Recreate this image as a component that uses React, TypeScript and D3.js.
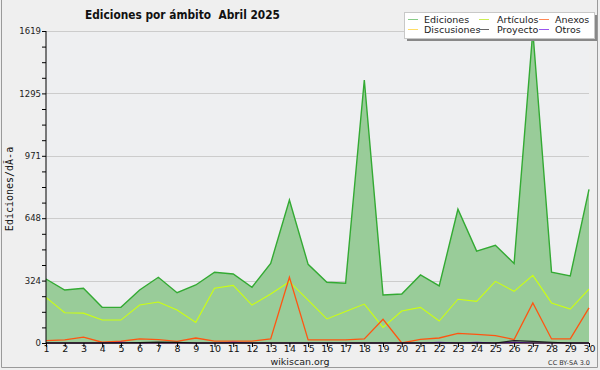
import { useEffect, useRef } from "react";
import * as d3 from "d3";

const W = 600;
const H = 370;
const MARGIN = { top: 31, right: 11, bottom: 27, left: 46 };

const days = d3.range(1, 31);
const ediciones = [332, 275, 284, 185, 185, 275, 341, 261, 301, 367, 358, 289, 413, 742, 408,
  315, 310, 1365, 249, 254, 353, 296, 694, 477, 507, 413, 1619, 367, 348, 797];
const articulos = [237, 157, 155, 119, 119, 197, 213, 171, 107, 284, 299, 197, 254, 318, 223,
  125, 163, 202, 81, 166, 185, 114, 227, 216, 320, 268, 351, 208, 176, 280];
const anexos = [12, 16, 30, 4, 9, 21, 18, 8, 26, 10, 10, 10, 21, 341, 16,
  16, 16, 21, 123, 0, 19, 26, 50, 45, 38, 18, 208, 21, 21, 182];
const discusiones = [1, 0, 1, 0, 0, 1, 0, 0, 1, 0, 0, 0, 1, 0, 0,
  0, 0, 1, 0, 0, 0, 1, 0, 0, 1, 0, 0, 0, 0, 1];
const proyecto = [0, 0, 0, 0, 0, 2, 5, 3, 0, 0, 0, 0, 0, 0, 0,
  0, 0, 0, 0, 0, 0, 0, 0, 0, 0, 12, 8, 4, 0, 0];
const otros = [0, 0, 0, 0, 3, 0, 0, 0, 0, 0, 3, 0, 0, 0, 0,
  0, 0, 0, 0, 0, 0, 3, 0, 3, 0, 3, 0, 0, 0, 0];
const yTicks = [0, 324, 648, 971, 1295, 1619];

const legendItems = [
  { name: "Ediciones", color: "#88cc88" },
  { name: "Artículos", color: "#ccee55" },
  { name: "Anexos", color: "#ff8855" },
  { name: "Discusiones", color: "#ffdd66" },
  { name: "Proyecto", color: "#666666" },
  { name: "Otros", color: "#9955ee" },
];

export default function App() {
  const ref = useRef<SVGSVGElement>(null);

  useEffect(() => {
    const svg = d3.select(ref.current);
    svg.selectAll("*").remove();

    const x = d3.scaleLinear().domain([1, 30]).range([MARGIN.left, W - MARGIN.right]);
    const y = d3.scaleLinear().domain([0, 1619]).range([H - MARGIN.bottom, MARGIN.top]);

    svg.append("rect").attr("width", W).attr("height", H).attr("fill", "#efefef");
    svg.append("path")
      .attr("d", `M1.5,0V367.5H597.5V0`)
      .attr("fill", "none").attr("stroke", "#9a9a9a");

    // plot background + grid
    svg.append("rect")
      .attr("x", x(1)).attr("y", y(1619))
      .attr("width", x(30) - x(1)).attr("height", y(0) - y(1619))
      .attr("fill", "#eeeff1");
    svg.append("g").selectAll("line").data(yTicks.slice(1)).join("line")
      .attr("x1", x(1)).attr("x2", x(30))
      .attr("y1", (d) => Math.round(y(d)) + 0.5).attr("y2", (d) => Math.round(y(d)) + 0.5)
      .attr("stroke", "#cccccc");

    const area = d3.area<number>().x((_, i) => x(days[i])).y0(y(0)).y1((d) => y(d));
    const line = d3.line<number>().x((_, i) => x(days[i])).y((d) => y(d));

    svg.append("path").attr("d", area(ediciones)).attr("fill", "#99cc99");
    svg.append("path").attr("d", line(ediciones)).attr("fill", "none")
      .attr("stroke", "#33aa33").attr("stroke-width", 1.4);
    svg.append("path").attr("d", line(articulos)).attr("fill", "none")
      .attr("stroke", "#ccff11").attr("stroke-width", 1.1);
    svg.append("path").attr("d", line(discusiones)).attr("fill", "none")
      .attr("stroke", "#ffdd44").attr("stroke-width", 1);
    svg.append("path").attr("d", line(anexos)).attr("fill", "none")
      .attr("stroke", "#ff5511").attr("stroke-width", 1.3);
    svg.append("path").attr("d", line(otros)).attr("fill", "none")
      .attr("stroke", "#7711dd").attr("stroke-width", 1.2);
    svg.append("path").attr("d", line(proyecto)).attr("fill", "none")
      .attr("stroke", "#222222").attr("stroke-width", 1.2);

    // axes
    const yAxis = d3.axisLeft(y)
      .tickValues(d3.range(0, 21).map((i) => (1619 * i) / 20))
      .tickSize(4)
      .tickFormat((d) => {
        const v = +d;
        const hit = yTicks.find((t) => Math.abs(t - v) < 1);
        return hit !== undefined ? String(hit) : "";
      });
    const gy = svg.append("g").attr("transform", `translate(${x(1)},0)`).call(yAxis);
    gy.selectAll("line").attr("stroke", "#000");
    gy.select(".domain").attr("stroke", "#000").attr("d", `M0,${y(1619)}V${y(0)}`);
    gy.selectAll("text").attr("font-family", "DejaVu Sans").attr("font-size", 8.5)
      .attr("fill", "#222").attr("x", -5);

    const xAxis = d3.axisBottom(x).tickValues(days).tickSize(4).tickFormat(d3.format("d"));
    const gx = svg.append("g").attr("transform", `translate(0,${y(0)})`).call(xAxis);
    gx.selectAll("line").attr("stroke", "#000");
    gx.select(".domain").attr("stroke", "#000").attr("d", `M${x(1)},0H${x(30)}`);
    gx.selectAll("text").attr("font-family", "DejaVu Sans").attr("font-size", 9.5)
      .attr("fill", "#111").attr("y", 2.5);

    // title
    svg.append("text").attr("x", 85).attr("y", 18.5)
      .attr("font-family", "DejaVu Sans").attr("font-weight", "bold").attr("font-size", 12.5)
      .attr("textLength", 195).attr("lengthAdjust", "spacingAndGlyphs")
      .attr("fill", "#111").attr("xml:space", "preserve").text("Ediciones por ámbito  Abril 2025");

    svg.append("text")
      .attr("transform", "translate(13,189) rotate(-90)")
      .attr("text-anchor", "middle").attr("font-family", "DejaVu Sans Mono")
      .attr("font-size", 10).attr("fill", "#111").text("Ediciones/dÃ-a");

    svg.append("text").attr("x", 300).attr("y", 364.5).attr("text-anchor", "middle")
      .attr("font-family", "DejaVu Sans").attr("font-size", 9.5).attr("fill", "#222")
      .text("wikiscan.org");
    svg.append("text").attr("x", 590).attr("y", 365).attr("text-anchor", "end")
      .attr("font-family", "DejaVu Sans").attr("font-size", 6.5).attr("fill", "#333")
      .text("CC BY-SA 3.0");

    // legend
    const lg = svg.append("g");
    lg.append("rect").attr("x", 407).attr("y", 15).attr("width", 190).attr("height", 26).attr("fill", "#888");
    lg.append("rect").attr("x", 404.5).attr("y", 12.5).attr("width", 190).attr("height", 26)
      .attr("fill", "#fff").attr("stroke", "#c8c8c8");
    const colX = [408, 479, 539];
    const textX = [424, 497, 555];
    legendItems.forEach((it, i) => {
      const c = i % 3;
      const r = Math.floor(i / 3);
      const yy = 19.5 + r * 10;
      lg.append("line").attr("x1", colX[c]).attr("x2", colX[c] + 10)
        .attr("y1", yy).attr("y2", yy).attr("stroke", it.color);
      lg.append("text").attr("x", textX[c]).attr("y", yy + 3.5)
        .attr("font-family", "DejaVu Sans").attr("font-size", 9.5).attr("fill", "#222")
        .text(it.name);
    });
  }, []);

  return (
    <div style={{ position: "absolute", left: 0, top: 0 }}>
      <svg ref={ref} width={W} height={H} style={{ display: "block" }} />
    </div>
  );
}
